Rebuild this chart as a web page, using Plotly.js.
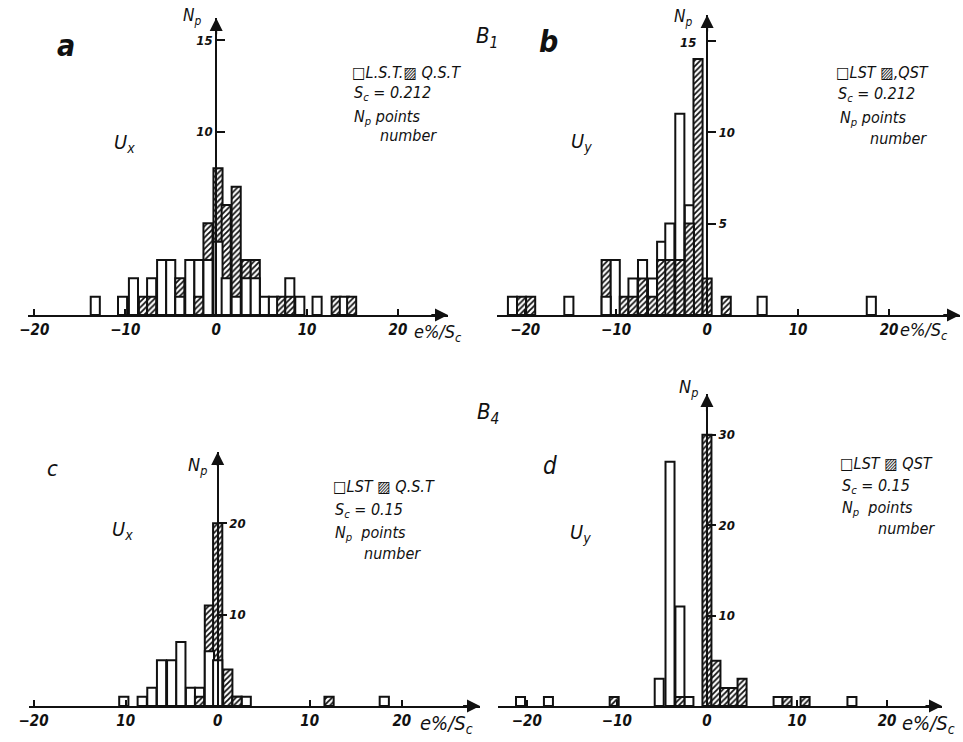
<!DOCTYPE html>
<html><head><meta charset="utf-8">
<script src="https://cdn.plot.ly/plotly-3.0.1.min.js"></script>
<style>html,body{margin:0;padding:0;background:#fff}#chart{width:963px;height:742px}</style>
</head><body><div id="chart"></div>
<script>
// ---- data (bin centres in e%/Sc, counts Np) ----
// a: B1, Ux
const aBins = [-13.3,-10.3,-9.1,-8.0,-7.1,-6.0,-5.0,-4.0,-2.9,-1.9,-0.9,0.2,1.1,2.2,3.3,4.3,5.3,6.3,7.2,8.1,9.2,11.1,13.2,14.1,14.9];
const aLST = [1,1,2,0,2,3,3,1,3,3,3,4,2,1,2,2,1,1,0,2,1,1,0,1,0];
const aQST = [0,0,0,1,1,0,0,2,0,1,5,8,6,7,3,3,0,0,1,1,0,0,1,0,1];
// b: B1, Uy
const bBins = [-21.4,-20.4,-19.4,-15.2,-11.1,-10.1,-9.1,-8.15,-7.1,-6.0,-5.0,-4.1,-3.0,-1.95,-1.0,0.0,2.1,6.05,18.05];
const bLST = [1,0,0,1,1,3,0,2,3,2,4,5,11,6,0,0,0,1,1];
const bQST = [0,1,1,0,3,0,1,1,2,1,3,3,3,5,14,2,1,0,0];
// c: B4, Ux
const cBins = [-10.2,-8.2,-7.15,-6.1,-5.0,-4.0,-2.95,-1.97,-0.9,0.0,1.1,2.1,3.1,12.1,18.1];
const cLST = [1,1,2,5,5,7,2,2,6,5,0,1,1,0,1];
const cQST = [0,0,0,0,0,0,0,1,11,20,4,1,0,1,0];
// d: B4, Uy
const dBins = [-20.7,-17.6,-10.3,-5.3,-4.1,-3.0,-2.0,0.0,1.0,1.95,2.9,3.9,7.9,8.9,10.9,16.1];
const dLST = [1,1,0,3,27,11,1,0,0,0,0,0,1,0,0,1];
const dQST = [0,0,1,0,0,1,0,30,5,2,2,3,0,1,1,0];

// tick labels
const xTickVals = [-20,-10,0,10,20];
const aXText = ['\u221220','\u221210','0','10','20'];
const bXText = ['\u221220','\u221210','0','10','20'];
const cXText = ['\u221220','10','0','10','20'];
const dXText = ['\u221220','\u221210','0','10','20'];
const aYVals = [10,15], aYText = ['10','15'];
const bYVals = [5,10,15], bYText = ['5','10',''];
const cYVals = [10,20], cYText = ['10','20'];
const dYVals = [10,20,30], dYText = ['10','20','30'];

// ---- layout helpers ----
const W = 963, H = 742;
const F = "'Liberation Sans Narrow','DejaVu Sans Condensed','Liberation Sans',sans-serif";
const INK = '#111';

const panels = [
  {bins:aBins,L:aLST,Q:aQST,xr:[-20.7,25.5],xd:[28,448],yr:[0,16.2],yd:[18,315],side:'left',ticks:'inside',ytv:aYVals,ytt:aYText,xtt:aXText},
  {bins:bBins,L:bLST,Q:bQST,xr:[-23.1,27.8],xd:[497,960],yr:[0,16.4],yd:[15,315],side:'right',ticks:'outside',ytv:bYVals,ytt:bYText,xtt:bXText},
  {bins:cBins,L:cLST,Q:cQST,xr:[-20.5,28.5],xd:[29,480],yr:[0,27.8],yd:[452,706],side:'right',ticks:'outside',ytv:cYVals,ytt:cYText,xtt:cXText},
  {bins:dBins,L:dLST,Q:dQST,xr:[-23.2,26.1],xd:[498,942],yr:[0,34.5],yd:[394,706],side:'right',ticks:'outside',ytv:dYVals,ytt:dYText,xtt:dXText}
];

const xTickFont = {family:F,size:15,color:INK,style:'italic',weight:'bold'};
const yTickFont = {family:F,size:13,color:INK,style:'italic',weight:'bold'};
const layout = {
  width:W,height:H,margin:{l:0,r:0,t:0,b:0},
  paper_bgcolor:'#fff',plot_bgcolor:'rgba(0,0,0,0)',
  barmode:'overlay',showlegend:false,
  font:{family:F,color:INK},
  annotations:[]
};
const traces = [];

function styleOf(isQ){ return isQ ? '/' : ''; }

panels.forEach((p,i)=>{
  const n = i===0 ? '' : String(i+1);
  const xa = 'x'+n, ya = 'y'+n;
  const pos = (p.xd[0] + (0-p.xr[0])/(p.xr[1]-p.xr[0])*(p.xd[1]-p.xd[0]))/W;
  layout['xaxis'+n] = {
    domain:[p.xd[0]/W,p.xd[1]/W], range:p.xr, anchor:ya,
    showline:true, linewidth:2, linecolor:INK, mirror:false,
    ticks:'inside', ticklen:6, tickwidth:2, tickcolor:INK,
    tickvals:xTickVals, ticktext:p.xtt, tickfont:xTickFont,
    showgrid:false, zeroline:false, automargin:false, fixedrange:true
  };
  layout['yaxis'+n] = {
    domain:[1-p.yd[1]/H, 1-p.yd[0]/H], range:p.yr, anchor:'free', position:pos,
    side:p.side, showline:true, linewidth:2, linecolor:INK,
    ticks:p.ticks, ticklen:8, tickwidth:2, tickcolor:INK,
    tickvals:p.ytv, ticktext:p.ytt, tickfont:yTickFont,
    showgrid:false, zeroline:false, automargin:false, fixedrange:true
  };
  // back layer = taller of the two series, front layer = shorter one
  const backY = [], backS = [], frontY = [], frontS = [];
  p.bins.forEach((b,k)=>{
    const L = p.L[k], Q = p.Q[k];
    const qTall = Q > L;
    backY.push(Math.max(L,Q)); backS.push(styleOf(qTall));
    const mn = Math.min(L,Q);
    frontY.push(mn > 0 ? mn : null); frontS.push(styleOf(!qTall));
  });
  [[backY,backS],[frontY,frontS]].forEach(([ys,ss])=>{
    traces.push({
      type:'bar', x:p.bins, y:ys, xaxis:xa, yaxis:ya, width:1.0,
      marker:{color:'#fff', line:{color:INK,width:2},
        pattern:{shape:ss, fgcolor:INK, bgcolor:'#fff', size:4, solidity:0.45}},
      opacity:1, hoverinfo:'skip'
    });
  });
  // arrows at axis ends
  layout.annotations.push({x:p.xr[1],y:0,xref:xa,yref:ya,ax:p.xr[1]-2,ay:0,axref:xa,ayref:ya,
    text:'',showarrow:true,arrowhead:2,arrowsize:1.3,arrowwidth:2,arrowcolor:INK});
  const dy = (p.yr[1]-p.yr[0])*0.06;
  layout.annotations.push({x:0,y:p.yr[1],xref:xa,yref:ya,ax:0,ay:p.yr[1]-dy,axref:xa,ayref:ya,
    text:'',showarrow:true,arrowhead:2,arrowsize:1.3,arrowwidth:2,arrowcolor:INK});
});

function T(text,px,py,size,anchor,bold){
  layout.annotations.push({text:text,x:px/W,y:1-py/H,xref:'paper',yref:'paper',showarrow:false,
    xanchor:anchor||'center',yanchor:'middle',
    font:{family:F,size:size,color:INK,style:'italic',weight:bold?'bold':'normal'}});
}
// panel letters
T('a',66,46,30,'center',true);
T('b',548,42,30,'center',true);
T('c',52,468,22,'center',false);
T('d',550,466,24,'center',false);
T('B<sub>1</sub>',487,37,22);
T('B<sub>4</sub>',488,414,22);
// component labels
T('U<sub>x</sub>',124,143,20);
T('U<sub>y</sub>',581,142,20);
T('U<sub>x</sub>',122,530,20);
T('U<sub>y</sub>',580,533,20);
// axis names
T('N<sub>p</sub>',192,16,17);
T('N<sub>p</sub>',683,17,17);
T('N<sub>p</sub>',197,466,18);
T('N<sub>p</sub>',688,388,18);
T('15',688,43,13,'center',true);
T('e%/S<sub>c</sub>',412,333,18,'left');
T('e%/S<sub>c</sub>',898,331,18,'left');
T('e%/S<sub>c</sub>',418,724,20,'left');
T('e%/S<sub>c</sub>',900,724,20,'left');
// legend blocks
const LS = 16;
T('<b>\u25A1</b>L.S.T.<b>\u25A8</b> Q.S.T',350,72,LS,'left');
T('S<sub>c</sub> = 0.212',352,94,LS,'left');
T('N<sub>p</sub> points',352,117,LS,'left');
T('number',378,136,LS,'left');
T('<b>\u25A1</b>LST <b>\u25A8</b>,QST',834,72,LS,'left');
T('S<sub>c</sub> = 0.212',836,95,LS,'left');
T('N<sub>p</sub> points',838,118,LS,'left');
T('number',868,138,LS,'left');
T('<b>\u25A1</b>LST <b>\u25A8</b> Q.S.T',331,486,LS,'left');
T('S<sub>c</sub> = 0.15',333,510,LS,'left');
T('N<sub>p</sub>  points',333,533,LS,'left');
T('number',362,553,LS,'left');
T('<b>\u25A1</b>LST <b>\u25A8</b> QST',838,463,LS,'left');
T('S<sub>c</sub> = 0.15',840,486,LS,'left');
T('N<sub>p</sub>  points',840,508,LS,'left');
T('number',876,528,LS,'left');

Plotly.newPlot('chart',traces,layout,{staticPlot:true,displayModeBar:false});
</script>
</body></html>
